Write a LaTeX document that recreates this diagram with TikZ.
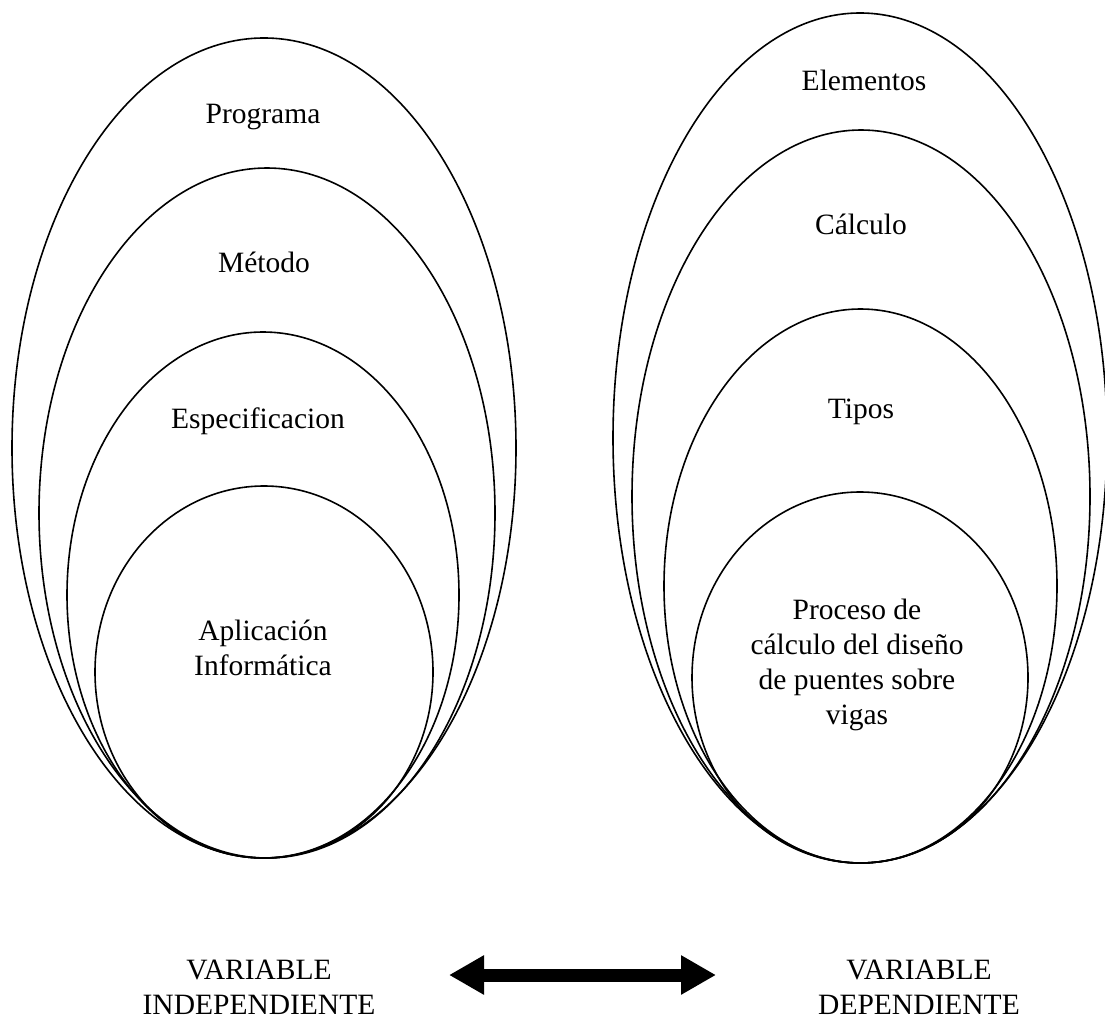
\documentclass[tikz,border=0pt]{standalone}
\usepackage{fontspec}
\setmainfont{Liberation Serif}
\usetikzlibrary{arrows.meta}
\begin{document}
\begin{tikzpicture}[x=1pt,y=-1pt,
  ring/.style={line width=1.6pt},
  lbl/.style={font=\fontsize{29.5}{35}\selectfont, align=center, inner sep=0pt},
  bigarrow/.style={line width=13pt, {Triangle[length=35pt,width=37pt]}-{Triangle[length=35pt,width=37pt]}}]
\useasboundingbox (0,0) rectangle (1105,1019);
\clip (0,0) rectangle (1105,1019);
% left group
\draw[ring] (264,448) ellipse [x radius=252, y radius=410];
\draw[ring] (267,513) ellipse [x radius=228, y radius=345];
\draw[ring] (263,595) ellipse [x radius=196, y radius=263];
\draw[ring] (264,672) ellipse [x radius=169, y radius=186];
% right group
\draw[ring] (860,438) ellipse [x radius=247, y radius=425];
\draw[ring] (861,496.5) ellipse [x radius=229, y radius=366.5];
\draw[ring] (860.5,586) ellipse [x radius=196.5, y radius=277];
\draw[ring] (860,677.5) ellipse [x radius=168, y radius=185.5];
% labels
\node[lbl] (prog) at (263,117) {Programa};
\node[lbl] (met) at (264,262) {Método};
\node[lbl] (esp) at (258,421) {Especificacion};
\node[lbl] (apl) at (263,648) {Aplicación\\Informática};
\node[lbl] (ele) at (864,80) {Elementos};
\node[lbl] (cal) at (861,224) {Cálculo};
\node[lbl] (tip) at (861,412) {Tipos};
\node[lbl] (pro) at (857,665) {Proceso de\\cálculo del diseño\\de puentes sobre\\vigas};
\node[lbl] (vi) at (259,987) {VARIABLE\\INDEPENDIENTE};
\node[lbl] (vd) at (919,987) {VARIABLE\\DEPENDIENTE};
% arrow
\coordinate (al) at (449,975);
\coordinate (ar) at (716,975);
\draw[bigarrow] (al) -- (ar);
\end{tikzpicture}
\end{document}
